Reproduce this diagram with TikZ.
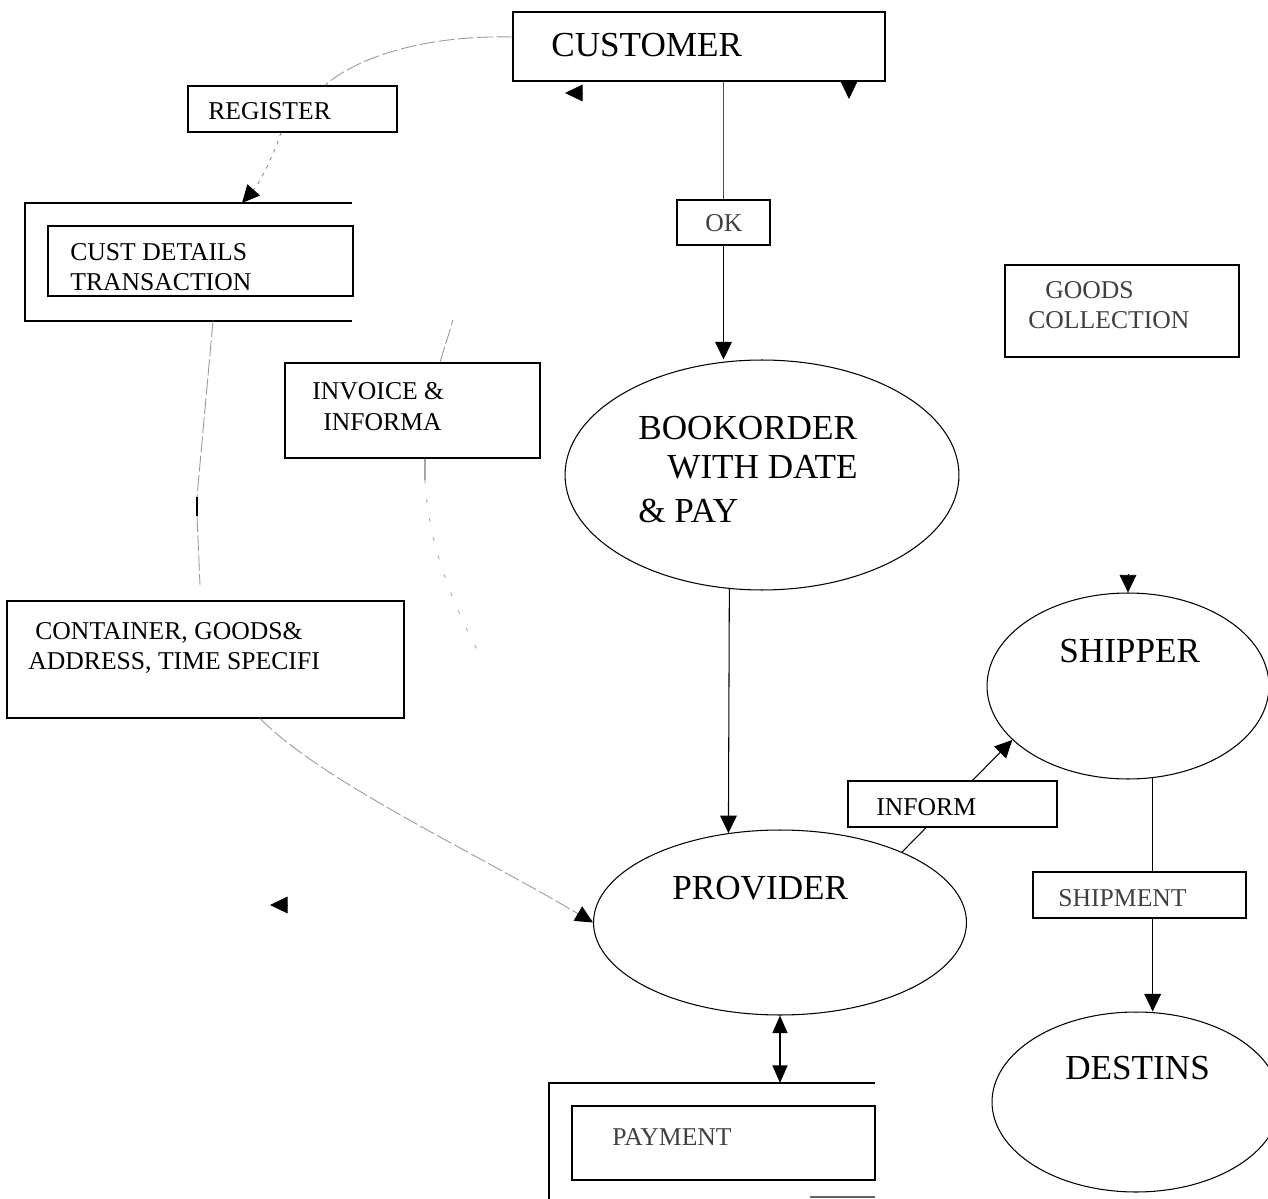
\documentclass[tikz,border=0pt]{standalone}
\usepackage{fontspec}
\setmainfont{Liberation Serif}
\usetikzlibrary{arrows.meta,shapes.geometric}

\begin{document}
\begin{tikzpicture}[x=0.02cm,y=-0.02cm,
  box/.style={draw, line width=0.8pt, inner sep=0pt, fill=white},
  proc/.style={draw, ellipse, line width=0.6pt, inner sep=0pt},
  small/.style={inner sep=0pt, anchor=base west, font=\fontsize{14.6}{17}\selectfont},
  dim/.style={small, text=black!75},
  big/.style={inner sep=0pt, anchor=base west, font=\fontsize{20}{24}\selectfont},
  tipA/.style={-{Triangle[length=10pt,width=9.5pt,color=black]}},
  flow/.style={line width=0.6pt, tipA},
  faint/.style={draw=black!40, line width=0.5pt, dash pattern=on 9pt off 2pt},
  sparse/.style={draw=black!35, line width=0.5pt, dash pattern=on 2pt off 9pt},
  store/.style={line width=0.8pt},
]
\useasboundingbox (0,0) rectangle (1268,1199);

% ---- external entity
\node[box, minimum width=7.44cm, minimum height=1.38cm] (customer) at (699,46.5) {};
\node[big] (t-customer) at (551,57) {CUSTOMER};

% ---- flow labels
\node[box, minimum width=4.18cm, minimum height=0.92cm] (register) at (292.5,109) {};
\node[small] (t-register) at (208,120) {REGISTER};

\node[box, minimum width=1.86cm, minimum height=0.9cm] (ok) at (723.5,222.5) {};
\node[dim] (t-ok) at (705,232) {OK};

\node[box, minimum width=5.1cm, minimum height=1.9cm] (invoice) at (412.5,410.5) {};
\node[small] (t-invoice1) at (312,399) {INVOICE \&};
\node[small] (t-invoice2) at (323,431) {INFORMA};

\node[box, minimum width=4.68cm, minimum height=1.84cm] (goods) at (1122,311) {};
\node[dim] (t-goods1) at (1045,299) {GOODS};
\node[dim] (t-goods2) at (1028,329) {COLLECTION};

\node[box, minimum width=7.94cm, minimum height=2.34cm] (container) at (205.5,659.5) {};
\node[small] (t-container1) at (35,639) {CONTAINER, GOODS\&};
\node[small] (t-container2) at (28,669) {ADDRESS, TIME SPECIFI};

\node[box, minimum width=4.26cm, minimum height=0.92cm] (shipment) at (1139.5,895) {};
\node[dim] (t-shipment) at (1058,906) {SHIPMENT};

% ---- data store: customer details
\coordinate (csTL) at (25,203);
\coordinate (csBL) at (25,321);
\draw[store] (352,203) -- (csTL) -- (csBL) -- (352,321);
\node[box, minimum width=6.1cm, minimum height=1.4cm] (custin) at (200.5,261) {};
\node[small] (t-cust1) at (70,261) {CUST DETAILS};
\node[small] (t-cust2) at (70,291) {TRANSACTION};
\coordinate (csTop) at (242,203);
\coordinate (csBot) at (213,321);

% ---- data store: payment
\coordinate (payTL) at (549,1083);
\draw[store] (875,1083) -- (payTL) -- (549,1205);
\draw[store, draw=black!60] (810,1197) -- (875,1197);
\node[box, minimum width=6.06cm, minimum height=1.48cm] (payin) at (723.5,1143) {};
\node[dim] (t-pay) at (612,1145) {PAYMENT};
\coordinate (payTop) at (782,1083);

% ---- processes
\node[proc, minimum width=7.88cm, minimum height=4.6cm] (book) at (762,475) {};
\node[big] (t-book1) at (638,439) {BOOKORDER};
\node[big] (t-book2) at (667,479) {WITH DATE};
\node[big] (t-book3) at (638,522) {\& PAY};

\node[proc, minimum width=7.46cm, minimum height=3.7cm] (provider) at (780,922.5) {};
\node[big] (t-provider) at (672,899) {PROVIDER};

\node[proc, minimum width=5.64cm, minimum height=3.72cm] (shipper) at (1128,686) {};
\node[big] (t-shipper) at (1059,662) {SHIPPER};

\node[proc, minimum width=5.76cm, minimum height=3.6cm] (destins) at (1136,1102) {};
\node[big] (t-destins) at (1065,1079) {DESTINS};

% ---- connectors
\draw[faint] ([yshift=0.19cm]customer.west) .. controls (430,35) and (360,55) .. ([xshift=0.65cm]register.north);
\draw[draw=black!45, line width=0.5pt, dash pattern=on 2pt off 3pt, tipA]
  ([xshift=-0.23cm]register.south) .. controls (272,160) and (258,185) .. (csTop);

\draw[draw=black!70, line width=0.5pt] (ok.north |- customer.south) -- (ok.north);
\draw[flow] (ok.south) -- (ok.south |- book.north);

\coordinate (cbreakA) at (197,497);
\coordinate (cbreakB) at (197,516);
\coordinate (cend) at (200,585);
\draw[faint] (csBot) -- (cbreakA);
\draw[line width=0.7pt] (cbreakA) -- (cbreakB);
\draw[faint] (cbreakB) -- (cend);

\coordinate (invUp) at (453,320);
\draw[faint] ([xshift=0.55cm]invoice.north) -- (invUp);
\coordinate (invMid) at (425,480);
\coordinate (invEnd) at (480,655);
\draw[draw=black!55, line width=0.6pt] ([xshift=0.25cm]invoice.south) -- (invMid);
\draw[sparse] (invMid) .. controls (428,540) and (450,600) .. (invEnd);

\draw[faint, tipA]
  ([xshift=1.1cm]container.south) .. controls (320,780) and (470,850) .. (provider.west);

\draw[flow] (book.-106) -- (provider.120);

\draw[line width=0.8pt, {Triangle[length=10pt,width=8.5pt]}-{Triangle[length=10pt,width=8.5pt]}]
  (provider.south) -- (provider.south |- payTop);

\draw[flow] (provider.30) -- (shipper.205);
\draw[line width=0.6pt] (shipper.-75) -- (shipper.-75 |- shipment.north);
\draw[flow] (shipper.-75 |- shipment.south) -- (shipper.-75 |- destins.north);

% loose arrow tips
\coordinate (tipCustL) at (565,93);
\coordinate (tipCustD) at (849,99);
\coordinate (tipLone) at (270,905);
\draw[tipA] (tipCustL) ++(18,0) -- (tipCustL);
\draw[tipA] (tipCustD) ++(0,-18) -- (tipCustD);
\draw[tipA] (tipLone) ++(18,0) -- (tipLone);
\draw[tipA] (shipper.north) ++(0,-18) -- (shipper.north);

% label box over the provider-shipper flow
\node[box, minimum width=4.18cm, minimum height=0.92cm] (inform) at (952.5,804) {};
\node[small] (t-inform) at (876,815) {INFORM};

\end{tikzpicture}
\end{document}
